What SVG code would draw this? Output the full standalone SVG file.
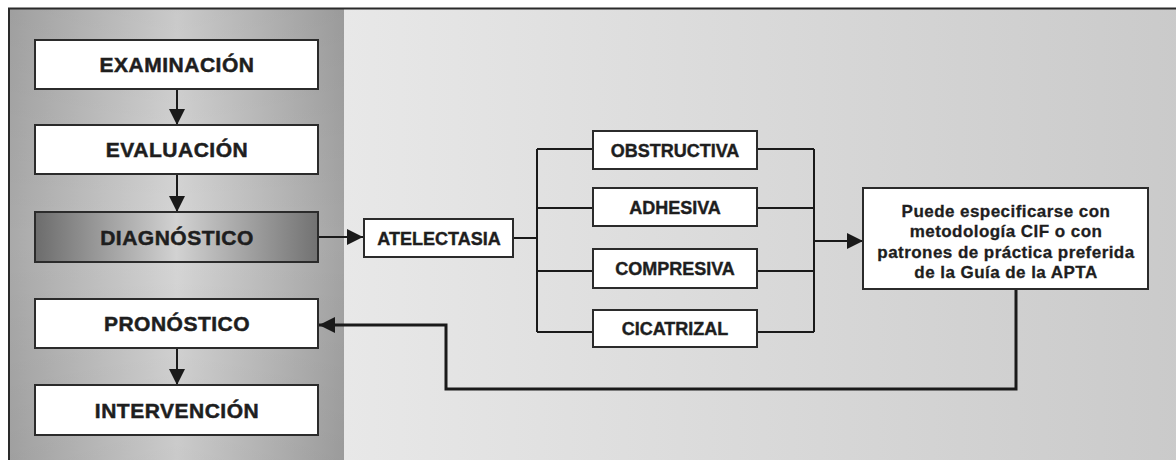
<svg xmlns="http://www.w3.org/2000/svg" width="1176" height="460" viewBox="0 0 1176 460">
  <defs>
    <linearGradient id="leftPanel" x1="0" y1="0" x2="1" y2="0">
      <stop offset="0" stop-color="#a9a9a9"/>
      <stop offset="0.5" stop-color="#d6d6d6"/>
      <stop offset="1" stop-color="#a4a4a4"/>
    </linearGradient>
    <linearGradient id="leftShade" x1="0" y1="0" x2="0" y2="1">
      <stop offset="0" stop-color="#000000" stop-opacity="0.06"/>
      <stop offset="0.5" stop-color="#000000" stop-opacity="0"/>
      <stop offset="1" stop-color="#000000" stop-opacity="0.06"/>
    </linearGradient>
    <linearGradient id="rightPanel" x1="0" y1="0" x2="1" y2="0">
      <stop offset="0" stop-color="#e8e8e8"/>
      <stop offset="1" stop-color="#cacaca"/>
    </linearGradient>
    <linearGradient id="diagFill" x1="0" y1="0" x2="1" y2="0">
      <stop offset="0" stop-color="#6c6c6c"/>
      <stop offset="0.5" stop-color="#d2d2d2"/>
      <stop offset="1" stop-color="#727272"/>
    </linearGradient>
    <marker id="arrowBig" viewBox="0 0 10 10" refX="10" refY="5" markerWidth="16" markerHeight="16" markerUnits="userSpaceOnUse" orient="auto">
      <path d="M0,0 L10,5 L0,10 Z" fill="#1a1a1a"/>
    </marker>
  </defs>
  <style>
    .box { fill: #ffffff; stroke: #2b2b2b; stroke-width: 2; }
    .step { font-family: "Liberation Sans", Arial, sans-serif; font-weight: bold; font-size: 21px; letter-spacing: 0.5px; fill: #1e1e1e; stroke: #1e1e1e; stroke-width: 0.5px; text-anchor: middle; }
    .kind { font-family: "Liberation Sans", Arial, sans-serif; font-weight: bold; font-size: 18px; fill: #1e1e1e; stroke: #1e1e1e; stroke-width: 0.4px; text-anchor: middle; }
    .note { font-family: "Liberation Sans", Arial, sans-serif; font-weight: bold; font-size: 17px; letter-spacing: 0.45px; fill: #1e1e1e; stroke: #1e1e1e; stroke-width: 0.3px; text-anchor: middle; }
    .wire { fill: none; stroke: #1a1a1a; stroke-width: 2; }
    .wire-thick { fill: none; stroke: #1a1a1a; stroke-width: 3; }
  </style>

  <!-- page and frame -->
  <rect x="0" y="0" width="1176" height="460" fill="#ffffff"/>
  <rect x="344" y="9" width="840" height="460" fill="url(#rightPanel)"/>
  <rect x="10" y="9" width="334" height="460" fill="url(#leftPanel)"/>
  <rect x="10" y="9" width="334" height="460" fill="url(#leftShade)"/>
  <path d="M9,470 L9,8.5 L1180,8.5" fill="none" stroke="#2a2a2a" stroke-width="2"/>

  <!-- connectors -->
  <g id="connectors">
    <line class="wire" x1="177" y1="89" x2="177" y2="125" marker-end="url(#arrowBig)"/>
    <line class="wire" x1="177" y1="175" x2="177" y2="212" marker-end="url(#arrowBig)"/>
    <line class="wire" x1="177" y1="349" x2="177" y2="385" marker-end="url(#arrowBig)"/>
    <line class="wire" x1="318" y1="237" x2="363" y2="237" marker-end="url(#arrowBig)"/>
    <!-- fan-out from ATELECTASIA -->
    <path class="wire" d="M513,238 H537 M537,149 V332 M537,149 H593 M537,208 H593 M537,271 H593 M537,332 H593"/>
    <!-- fan-in to the note box -->
    <path class="wire" d="M757,149 H814 M757,208 H814 M757,271 H814 M757,332 H814 M814,149 V332"/>
    <line class="wire" x1="814" y1="241" x2="863" y2="241" marker-end="url(#arrowBig)"/>
    <!-- return path to PRONÓSTICO -->
    <path class="wire-thick" d="M1016,289 V389 H446 V325 H319" marker-end="url(#arrowBig)"/>
  </g>

  <!-- process steps -->
  <g id="examinacion">
    <rect class="box" x="35" y="40" width="283" height="49"/>
    <text class="step" x="177" y="72">EXAMINACIÓN</text>
  </g>
  <g id="evaluacion">
    <rect class="box" x="35" y="125" width="283" height="49"/>
    <text class="step" x="177" y="157">EVALUACIÓN</text>
  </g>
  <g id="diagnostico">
    <rect x="35" y="212" width="283" height="50" fill="url(#diagFill)" stroke="#2b2b2b" stroke-width="2"/>
    <text class="step" x="177" y="245">DIAGNÓSTICO</text>
  </g>
  <g id="pronostico">
    <rect class="box" x="35" y="299" width="283" height="49"/>
    <text class="step" x="177" y="331">PRONÓSTICO</text>
  </g>
  <g id="intervencion">
    <rect class="box" x="35" y="385" width="283" height="50"/>
    <text class="step" x="177" y="418">INTERVENCIÓN</text>
  </g>

  <!-- diagnosis and its types -->
  <g id="atelectasia">
    <rect class="box" x="364" y="219" width="149" height="38"/>
    <text class="kind" x="439" y="245">ATELECTASIA</text>
  </g>
  <g id="obstructiva">
    <rect class="box" x="593" y="131" width="164" height="38"/>
    <text class="kind" x="675" y="157">OBSTRUCTIVA</text>
  </g>
  <g id="adhesiva">
    <rect class="box" x="593" y="188" width="164" height="38"/>
    <text class="kind" x="675" y="214">ADHESIVA</text>
  </g>
  <g id="compresiva">
    <rect class="box" x="593" y="249" width="164" height="39"/>
    <text class="kind" x="675" y="275">COMPRESIVA</text>
  </g>
  <g id="cicatrizal">
    <rect class="box" x="593" y="310" width="164" height="37"/>
    <text class="kind" x="675" y="335">CICATRIZAL</text>
  </g>

  <!-- specification note -->
  <g id="nota">
    <rect class="box" x="863" y="188" width="285" height="101"/>
    <text class="note" x="1006" y="217">Puede especificarse con</text>
    <text class="note" x="1006" y="237">metodología CIF o con</text>
    <text class="note" x="1006" y="258">patrones de práctica preferida</text>
    <text class="note" x="1006" y="278">de la Guía de la APTA</text>
  </g>
</svg>
